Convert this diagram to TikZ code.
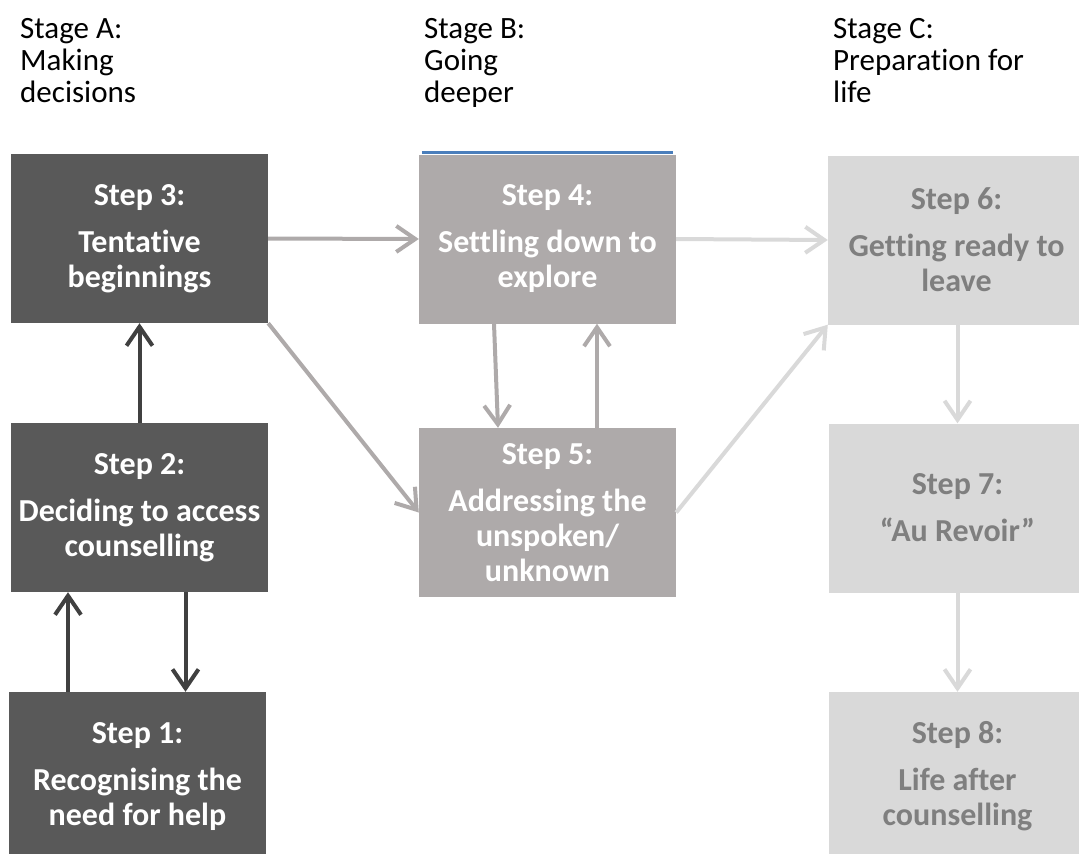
\documentclass[tikz,border=0pt]{standalone}
\usepackage{fontspec}
\setmainfont{Carlito}[Ligatures=NoCommon]
\usetikzlibrary{arrows.meta}
\definecolor{darkfill}{HTML}{595959}
\definecolor{darkline}{HTML}{404040}
\definecolor{midfill}{HTML}{AEAAAA}
\definecolor{lightfill}{HTML}{D9D9D9}
\definecolor{lighttext}{HTML}{7F7F7F}
\definecolor{topline}{HTML}{4A7EBB}
\tikzset{
  stepbox/.style={
    minimum width=257pt, minimum height=169pt, inner sep=0pt,
    align=flush center, text width=252pt,
    font=\fontsize{32}{35}\selectfont\bfseries
  },
  darkbox/.style={stepbox, fill=darkfill, text=white},
  midbox/.style={stepbox, fill=midfill, text=white},
  lightbox/.style={stepbox, fill=lightfill, text=lighttext},
  stagelabel/.style={
    anchor=north west, inner sep=0pt, align=left,
    font=\fontsize{31}{32}\selectfont
  },
  flow/.style={line width=4pt, -{Straight Barb[length=19pt,width=26pt]}},
  darkflow/.style={flow, draw=darkline},
  midflow/.style={flow, draw=midfill},
  lightflow/.style={flow, draw=lightfill}
}

\begin{document}
\begin{tikzpicture}[x=1pt, y=-1pt]
  \clip (0,0) rectangle (1079,854);

  % stage headings
  \node[stagelabel] (stagea) at (20,18) {Stage A:\\Making\\decisions};
  \node[stagelabel] (stageb) at (424,18) {Stage B:\\Going\\deeper};
  \node[stagelabel] (stagec) at (833,18) {Stage C:\\Preparation for\\life};

  % stage A
  \node[darkbox] (s3) at (139.5,238.5) {Step 3:\\[12pt]Tentative\\beginnings};
  \node[darkbox] (s2) at (139.5,507.5) {Step 2:\\[12pt]Deciding to access\\counselling};
  \node[darkbox] (s1) at (137.5,776.5) {Step 1:\\[12pt]Recognising the\\need for help};

  % stage B
  \node[midbox] (s4) at (547.5,239) {Step 4:\\[12pt]Settling down to\\explore};
  \node[midbox] (s5) at (547.5,512.5) {Step 5:\\[12pt]Addressing the\\unspoken/\\unknown};
  \draw[topline, line width=3pt] ([xshift=3pt, yshift=1.5pt]s4.north west) -- ([xshift=-3pt, yshift=1.5pt]s4.north east);

  % stage C
  \node[lightbox] (s6) at (956.5,240) {Step 6:\\[12pt]Getting ready to\\leave};
  \node[lightbox] (s7) at (957.5,508) {Step 7:\\[12pt]“Au Revoir”};
  \node[lightbox] (s8) at (957.5,776.5) {Step 8:\\[12pt]Life after\\counselling};

  \draw[darkflow] (s2.north) -- (s3.south);
  \draw[darkflow] ([xshift=-69.5]s1.north) -- ([xshift=-71.5]s2.south);
  \draw[darkflow] ([xshift=46]s2.south) -- ([xshift=48]s1.north);

  \draw[midflow] (s3.east) -- (s4.west);
  \draw[midflow] (s3.south east) -- (s5.west);
  \draw[midflow] ([xshift=-53.5]s4.south) -- ([xshift=-49.5]s5.north);
  \draw[midflow] ([xshift=49.5]s5.north) -- ([xshift=49.5]s4.south);

  \draw[lightflow] (s4.east) -- (s6.west);
  \draw[lightflow] (s5.east) -- (s6.south west);
  \draw[lightflow] ([xshift=1]s6.south) -- (s7.north);
  \draw[lightflow] (s7.south) -- (s8.north);
\end{tikzpicture}
\end{document}
